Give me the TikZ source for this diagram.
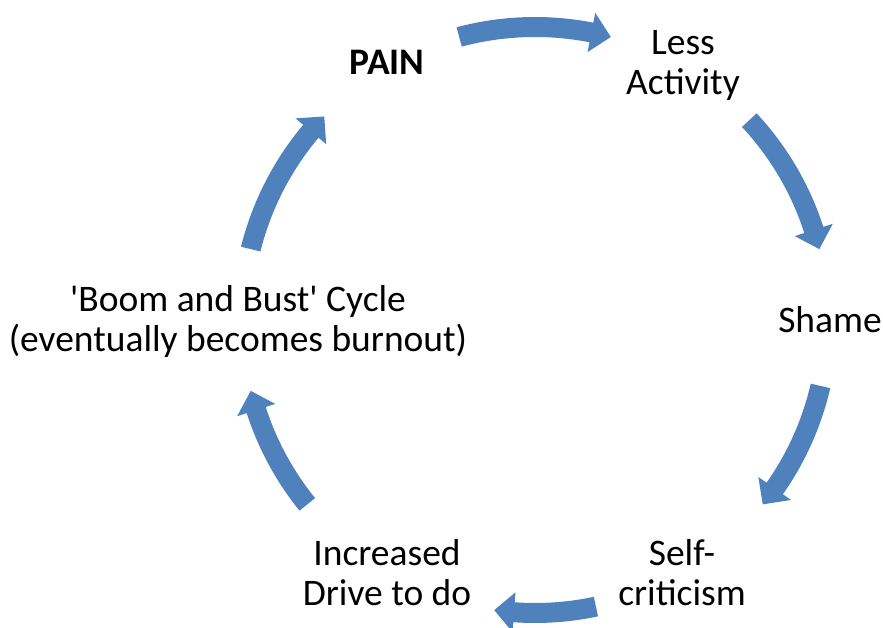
\documentclass[tikz,border=0pt]{standalone}
\usepackage{fontspec}
\setmainfont{Carlito}
\definecolor{arrowblue}{HTML}{4F81BD}
\tikzset{
  lbl/.style={anchor=base, align=center, inner sep=0pt, text=black,
    font=\fontsize{37.5}{40}\selectfont},
  arrowfill/.style={fill=arrowblue}
}
\newcommand\cycarrow[2]{%
  \pgfmathsetmacro\hb{#2+3.9}%
  \fill[arrowfill] (#1:303) arc[start angle=#1, end angle=\hb, radius=303]
    -- (\hb:313) -- (#2:293) -- (\hb:273) -- (\hb:283)
    arc[start angle=\hb, end angle=#1, radius=283] -- cycle;}
\begin{document}
\begin{tikzpicture}[x=1pt,y=1pt]
\useasboundingbox (0,0) rectangle (883,628);
\coordinate (C) at (535,308);
\begin{scope}[shift={(C)}]
  \cycarrow{105}{75}
  \cycarrow{43}{14}
  \cycarrow{-13}{-39}
  \cycarrow{-78}{-98}
  \cycarrow{-141}{-166}
  \cycarrow{166}{136}
\end{scope}
\node[lbl, font=\fontsize{37.5}{40}\selectfont\bfseries] (pain) at (387,553) {PAIN};
\node[lbl] (less) at (683,533) {Less\\Activity};
\node[lbl] (shame) at (830,295) {Shame};
\node[lbl] (self) at (682,22) {Self-\\criticism};
\node[lbl] (drive) at (387,22) {Increased\\Drive to do};
\node[lbl] (boom) at (238,276) {\textquotesingle Boom and Bust\textquotesingle\ Cycle\\(eventually becomes burnout)};
\end{tikzpicture}
\end{document}
